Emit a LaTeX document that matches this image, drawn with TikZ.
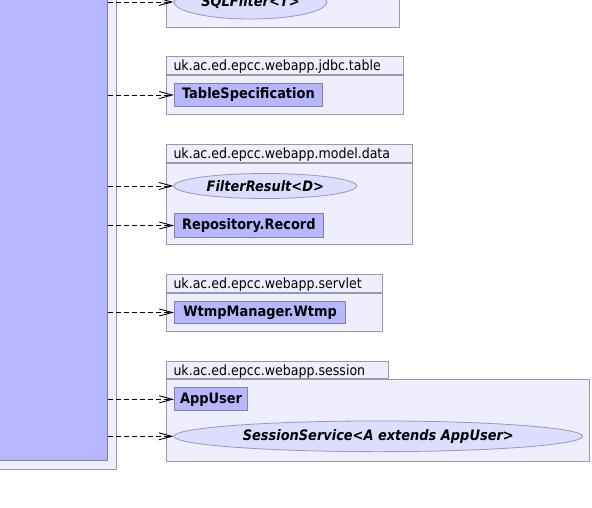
\documentclass[tikz,border=0pt]{standalone}
\usepackage{fontspec}
\setmainfont{DejaVu Sans Condensed}
\usetikzlibrary{arrows.meta,shapes.geometric}
\definecolor{clsfill}{RGB}{183,183,255}
\definecolor{clsline}{RGB}{128,128,168}
\definecolor{pkgfill}{RGB}{238,238,255}
\definecolor{pkgline}{RGB}{153,153,170}
\definecolor{ifill}{RGB}{221,221,255}
\definecolor{iline}{RGB}{150,150,190}
\begin{document}
\begin{tikzpicture}[x=1pt,y=-1pt,
  cls/.style={draw=clsline,fill=clsfill,line width=1pt,rectangle,inner sep=0pt,
    font=\fontsize{14.4}{16}\selectfont\bfseries,anchor=north west,align=center},
  ifc/.style={draw=iline,fill=ifill,line width=0.8pt,ellipse,inner sep=0pt,
    font=\fontsize{14.4}{16}\selectfont\bfseries\itshape},
  pkgbody/.style={draw=pkgline,fill=pkgfill,line width=1pt,rectangle,inner sep=0pt,anchor=north west},
  pkgtab/.style={draw=pkgline,fill=pkgfill,line width=1pt,rectangle,inner xsep=7pt,inner ysep=0pt,
    anchor=south west,text depth=0pt,font=\fontsize{14}{15}\selectfont,align=left},
  dep/.style={draw=black,line width=0.9pt,dash pattern=on 5pt off 3pt,
    -{Straight Barb[length=13pt,width=7pt,line width=0.9pt]}}
]
\useasboundingbox (0,0) rectangle (592,507);
\clip (0,0) rectangle (592,507);
\fill[white] (0,0) rectangle (592,507);

% big component
\draw[draw=pkgline,fill=pkgfill,line width=1pt] (-10,-10) rectangle (116,469);
\node[cls,anchor=south east,minimum width=130,minimum height=490] (big) at (108,461) {};

% package 1 (sqlfilter)
\node[pkgbody,minimum width=233,minimum height=60] (p1) at (166,-33) {};
\node[ifc,minimum width=153,minimum height=34] (sqlf) at (250.5,2) {SQLFilter<T>};

% package jdbc.table
\node[pkgtab,text width=223,minimum height=18] (p2t) at (166,75) {uk.ac.ed.epcc.webapp.jdbc.table};
\node[pkgbody,minimum width=237,minimum height=39] (p2) at (166,75) {};
\node[cls,minimum width=148,minimum height=23] (ts) at (174,83) {TableSpecification};

% package model.data
\node[pkgtab,text width=232,minimum height=18] (p3t) at (166,162.7) {uk.ac.ed.epcc.webapp.model.data};
\node[pkgbody,minimum width=246,minimum height=81.3] (p3) at (166,162.7) {};
\node[ifc,minimum width=182.7,minimum height=25] (fr) at (265.3,186) {FilterResult<D>};
\node[cls,minimum width=148.7,minimum height=23.4] (rr) at (174,213.3) {Repository.Record};

% package servlet
\node[pkgtab,text width=201.7,minimum height=18] (p4t) at (166,292.7) {uk.ac.ed.epcc.webapp.servlet};
\node[pkgbody,minimum width=215.7,minimum height=38.6] (p4) at (166,292.7) {};
\node[cls,minimum width=171.3,minimum height=22.6] (wt) at (174,300.7) {WtmpManager.Wtmp};

% package session
\node[pkgtab,text width=208.3,minimum height=17.3] (p5t) at (166,379) {uk.ac.ed.epcc.webapp.session};
\node[pkgbody,minimum width=423,minimum height=82] (p5) at (166,379) {};
\node[cls,minimum width=73.3,minimum height=23] (au) at (174,387.3) {AppUser};
\node[ifc,minimum width=408.7,minimum height=30.7] (ss) at (378.3,436.3) {SessionService<A extends AppUser>};

% dependencies
\foreach \t in {sqlf,ts,fr,rr,wt,au,ss}
  \draw[dep] (big.east |- \t.west) -- (\t.west);
\end{tikzpicture}
\end{document}
